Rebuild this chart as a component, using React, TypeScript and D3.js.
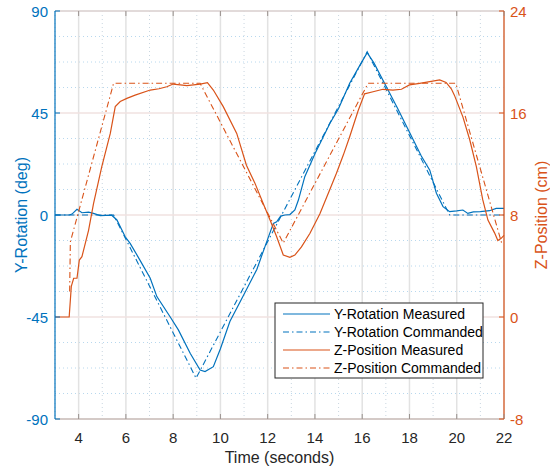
import React from "react"
import * as d3 from "d3"

// Y-Rotation (deg), left axis
const yRotMeasT = [3, 3.6, 3.72, 3.93, 4.14, 4.42, 4.63, 4.91, 5.4, 5.62, 5.97, 6.18, 6.6, 7.03, 7.31, 7.87, 8.22, 8.72, 9.14, 9.35, 9.7, 10.0, 10.4, 11.0, 11.54, 11.9, 12.24, 12.38, 12.55, 12.73, 12.94, 13.15, 13.3, 13.57, 14.0, 14.63, 15.0, 15.47, 15.9, 16.21, 16.5, 17.0, 17.5, 18.0, 18.5, 18.86, 19.14, 19.42, 19.7, 20.0, 20.26, 20.47, 20.7, 21.0, 21.39, 21.67, 22]
const yRotMeasV = [0, 0, 0.4, 2.5, 1.0, 1.3, 0.7, -0.3, -0.1, -2.2, -9.6, -12.5, -20, -27.9, -36, -44.9, -50.7, -61, -68.4, -69.1, -66.9, -59, -47, -35, -24, -13.5, -3.7, -3.0, -0.5, 0, 0.2, 2.2, 6.6, 16.9, 27, 40.4, 47, 58.1, 66, 71.6, 67, 57, 47, 36.5, 26, 19.8, 9.6, 3.7, 1.45, 1.8, 2.2, 0.7, 1.4, 1.5, 1.9, 2.9, 2.9]
const yRotCmdT = [3, 5.48, 8.97, 16.21, 19.7, 22]
const yRotCmdV = [0, 0, -72, 72, 0, 0]

// Z-Position (cm), right axis
const zPosMeasT = [3, 3.6, 3.69, 3.79, 3.93, 4.03, 4.14, 4.42, 4.63, 4.98, 5.34, 5.55, 5.76, 6.04, 6.39, 7.03, 7.4, 7.73, 8.0, 8.3, 8.58, 9.14, 9.45, 9.7, 10.12, 10.69, 11.1, 11.46, 11.81, 12.1, 12.38, 12.66, 12.94, 13.15, 13.43, 13.79, 14.21, 14.63, 14.91, 15.2, 15.47, 15.83, 16.1, 16.46, 16.88, 17.3, 17.66, 18.0, 18.43, 18.86, 19.28, 19.55, 19.77, 19.9, 20.26, 20.55, 20.83, 21.1, 21.32, 21.6, 21.74, 21.88, 22]
const zPosMeasV = [0, 0, 2.4, 3.04, 3.04, 4.47, 4.73, 6.8, 8.9, 11.8, 14.4, 16.5, 16.9, 17.15, 17.4, 17.8, 17.9, 18.06, 18.27, 18.2, 18.14, 18.27, 18.38, 17.8, 16.5, 14.4, 11.9, 10.5, 8.9, 7.6, 6.3, 4.86, 4.68, 4.86, 5.5, 6.57, 8.1, 10.0, 11.27, 12.7, 14.14, 16.2, 17.5, 17.67, 17.86, 17.8, 17.86, 18.2, 18.33, 18.46, 18.6, 18.4, 17.9, 17.4, 15.7, 13.9, 11.8, 9.2, 7.6, 6.6, 6.0, 6.17, 6.4]
const zPosCmdT = [3.62, 3.65, 5.48, 9.14, 12.66, 16.25, 19.96, 21.9, 22]
const zPosCmdV = [2.0, 5.9, 18.33, 18.33, 5.8, 18.33, 18.33, 5.8, 5.8]

const xTicks = [4, 6, 8, 10, 12, 14, 16, 18, 20, 22]
const yLeftTicks = [90, 45, 0, -45, -90]
const yRightTicks = [24, 16, 8, 0, -8]
const legendLabels = ["Y-Rotation Measured", "Y-Rotation Commanded", "Z-Position Measured", "Z-Position Commanded"]

const BLUE = "#0072BD"
const ORANGE = "#D95319"
const DASHDOT = "6,3,1.5,3"

const App = () => {
  const width = 550
  const height = 467
  const left = 55
  const right = 504
  const top = 11
  const bottom = 419

  const x = d3.scaleLinear().domain([3, 22]).range([left, right])
  const yL = d3.scaleLinear().domain([-90, 90]).range([bottom, top])
  const yR = d3.scaleLinear().domain([-8, 24]).range([bottom, top])

  const lineL = (t: number[], v: number[]) =>
    d3.line<number>().x((_, i) => x(t[i])).y((d) => yL(d))(v) || ""
  const lineR = (t: number[], v: number[]) =>
    d3.line<number>().x((_, i) => x(t[i])).y((d) => yR(d))(v) || ""

  const minorX = d3.range(3, 23, 1).filter((d) => d % 2 === 1)
  const minorY = d3.range(-90, 91, 11.25).filter((d) => d % 45 !== 0)

  const font = "'Liberation Sans', Arial, Helvetica, sans-serif"

  const legendX = 275
  const legendY = 303
  const legendStyles = [
    { c: BLUE, dash: undefined },
    { c: BLUE, dash: DASHDOT },
    { c: ORANGE, dash: undefined },
    { c: ORANGE, dash: DASHDOT },
  ]

  return (
    <svg width={width} height={height} style={{ position: "absolute", left: 0, top: 0, background: "#fff" }} fontFamily={font}>
      <rect x={left} y={top} width={right - left} height={bottom - top} fill="#fff" />

      {/* minor grid */}
      {minorX.map((d) => (
        <line key={"mx" + d} x1={x(d)} x2={x(d)} y1={top} y2={bottom} stroke="#c9d6e0" strokeWidth={1} strokeDasharray="1,3" />
      ))}
      {minorY.map((d) => (
        <line key={"my" + d} x1={left} x2={right} y1={yL(d)} y2={yL(d)} stroke="#b8d8ee" strokeWidth={1} strokeDasharray="1,3" />
      ))}

      {/* major grid */}
      {xTicks.map((d) => (
        <line key={"gx" + d} x1={x(d)} x2={x(d)} y1={top} y2={bottom} stroke="#e2e2e2" strokeWidth={1.5} />
      ))}
      {yLeftTicks.map((d) => (
        <line key={"gy" + d} x1={left} x2={right} y1={yL(d)} y2={yL(d)} stroke="#f0e2e0" strokeWidth={1.5} />
      ))}

      {/* data */}
      <path d={lineL(yRotCmdT, yRotCmdV)} fill="none" stroke={BLUE} strokeWidth={1.1} strokeDasharray={DASHDOT} />
      <path d={lineL(yRotMeasT, yRotMeasV)} fill="none" stroke={BLUE} strokeWidth={1.2} />
      <path d={lineR(zPosCmdT, zPosCmdV)} fill="none" stroke={ORANGE} strokeWidth={1.1} strokeDasharray={DASHDOT} />
      <path d={lineR(zPosMeasT, zPosMeasV)} fill="none" stroke={ORANGE} strokeWidth={1.2} />

      {/* box */}
      <line x1={left} x2={right} y1={top} y2={top} stroke="#d0cccc" strokeWidth={1} />
      <line x1={left} x2={right} y1={bottom} y2={bottom} stroke="#b3aba6" strokeWidth={1.2} />
      <line x1={left} x2={left} y1={top} y2={bottom} stroke={BLUE} strokeWidth={1.2} />
      <line x1={right} x2={right} y1={top} y2={bottom} stroke={ORANGE} strokeWidth={1.2} />

      {/* x ticks */}
      {xTicks.map((d) => (
        <g key={"xt" + d}>
          <line x1={x(d)} x2={x(d)} y1={bottom} y2={bottom - 5} stroke="#9a928e" />
          <line x1={x(d)} x2={x(d)} y1={top} y2={top + 5} stroke="#9a928e" />
          <text x={x(d)} y={437} textAnchor="middle" dominantBaseline="central" fontSize={15} fill="#262626">{d}</text>
        </g>
      ))}
      {yLeftTicks.map((d) => (
        <g key={"yl" + d}>
          <line x1={left} x2={left + 5} y1={yL(d)} y2={yL(d)} stroke={BLUE} />
          <text x={48} y={yL(d)} textAnchor="end" dominantBaseline="central" fontSize={15} fill={BLUE}>{d}</text>
        </g>
      ))}
      {yRightTicks.map((d) => (
        <g key={"yr" + d}>
          <line x1={right} x2={right - 5} y1={yR(d)} y2={yR(d)} stroke={ORANGE} />
          <text x={510} y={yR(d)} textAnchor="start" dominantBaseline="central" fontSize={15} fill={ORANGE}>{d}</text>
        </g>
      ))}

      {/* axis titles */}
      <text x={(left + right) / 2} y={457} textAnchor="middle" dominantBaseline="central" fontSize={16} fill="#262626">Time (seconds)</text>
      <text transform={`translate(21, ${(top + bottom) / 2}) rotate(-90)`} textAnchor="middle" dominantBaseline="central" fontSize={16} fill={BLUE}>Y-Rotation (deg)</text>
      <text transform={`translate(541, ${(top + bottom) / 2}) rotate(-90)`} textAnchor="middle" dominantBaseline="central" fontSize={16} fill={ORANGE}>Z-Position (cm)</text>

      {/* legend */}
      <rect x={legendX} y={legendY} width={208} height={75} fill="#fff" stroke="#262626" strokeWidth={1} />
      {legendLabels.map((lab, i) => {
        const cy = legendY + 11 + i * 18
        return (
          <g key={lab}>
            <line x1={legendX + 8} x2={legendX + 55} y1={cy} y2={cy} stroke={legendStyles[i].c} strokeWidth={1.2} strokeDasharray={legendStyles[i].dash} />
            <text x={legendX + 59} y={cy} dominantBaseline="central" fontSize={14} fill="#000">{lab}</text>
          </g>
        )
      })}
    </svg>
  )
}

export default App
